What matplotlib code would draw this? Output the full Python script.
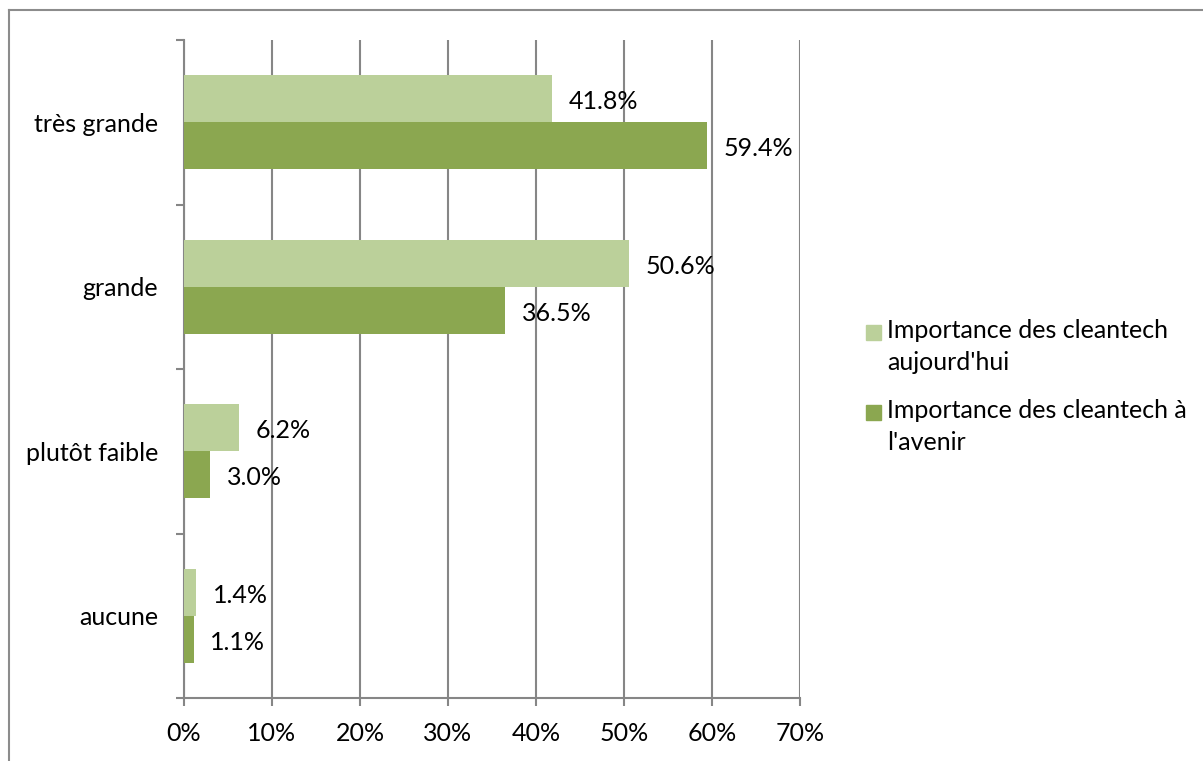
import matplotlib
matplotlib.use("Agg")
import matplotlib.pyplot as plt
from matplotlib.patches import Rectangle
from matplotlib.lines import Line2D

categories = ["très grande", "grande", "plutôt faible", "aucune"]
today = [41.8, 50.6, 6.2, 1.4]
future = [59.4, 36.5, 3.0, 1.1]
series_names = ["Importance des cleantech\naujourd'hui", "Importance des cleantech à\nl'avenir"]
xticks = [0, 10, 20, 30, 40, 50, 60, 70]

LIGHT = "#BBD09A"
DARK = "#8BA750"
GRID = "#868686"
FONT = "Lato"
FS = 18

plt.rcParams['font.family'] = [FONT, 'DejaVu Sans']

W, H = 1203, 761
fig = plt.figure(figsize=(W / 100, H / 100), dpi=100)

def fx(px):
    return px / W

def fy(py):
    return 1 - py / H

ax = fig.add_axes([fx(184), fy(698), fx(800) - fx(184), fy(40) - fy(698)])

h = 47 / 164.5
ys = list(range(len(categories)))
ax.barh([y - h / 2 for y in ys], today, height=h, color=LIGHT, zorder=3)
ax.barh([y + h / 2 for y in ys], future, height=h, color=DARK, zorder=3)

for y, v in zip(ys, today):
    ax.annotate(f"{v:.1f}%", xy=(v, y - h / 2), xytext=(12, -2), textcoords="offset points",
                va="center", ha="left", fontsize=FS, color="black", zorder=4)
for y, v in zip(ys, future):
    ax.annotate(f"{v:.1f}%", xy=(v, y + h / 2), xytext=(12, -2), textcoords="offset points",
                va="center", ha="left", fontsize=FS, color="black", zorder=4)

ax.set_xlim(0, 70)
ax.set_ylim(len(categories) - 0.5, -0.5)
ax.set_xticks(xticks)
ax.set_xticklabels([f"{t}%" for t in xticks], fontsize=FS)
ax.set_yticks([i - 0.5 for i in range(len(categories) + 1)])
ax.set_yticklabels([])
ax.set_yticks(ys, minor=True)
ax.set_yticklabels(categories, minor=True, fontsize=FS)
ax.tick_params(axis="y", which="minor", length=0, pad=18.5)
ax.tick_params(axis="y", which="major", length=6, width=1.5, color=GRID, direction="out")
ax.tick_params(axis="x", length=6, width=1.5, color=GRID, direction="out", pad=11)

ax.grid(axis="x", color=GRID, linewidth=1.5, zorder=1)
ax.set_axisbelow(True)
for s in ["top", "right"]:
    ax.spines[s].set_visible(False)
for s in ["left", "bottom"]:
    ax.spines[s].set_color(GRID)
    ax.spines[s].set_linewidth(1.5)

# Legend (manual)
for (sq_y, text_y, col, name) in [(332.5, 331, LIGHT, series_names[0]), (412.5, 411, DARK, series_names[1])]:
    fig.add_artist(Rectangle((fx(866), fy(sq_y + 7.5)), fx(15), fy(sq_y - 7.5) - fy(sq_y + 7.5),
                             transform=fig.transFigure, color=col))
    lines = name.split("\n")
    for k, ln in enumerate(lines):
        fig.text(fx(887), fy(text_y + k * 32), ln, fontsize=FS, va="center", ha="left")

# outer frame
fig.add_artist(Line2D([fx(9), fx(9)], [fy(10), fy(H + 5)], transform=fig.transFigure, color="#8c8c8c", linewidth=1.5))
fig.add_artist(Line2D([fx(9), fx(W + 5)], [fy(10), fy(10)], transform=fig.transFigure, color="#8c8c8c", linewidth=1.5))

fig.savefig("out.png", dpi=100)
